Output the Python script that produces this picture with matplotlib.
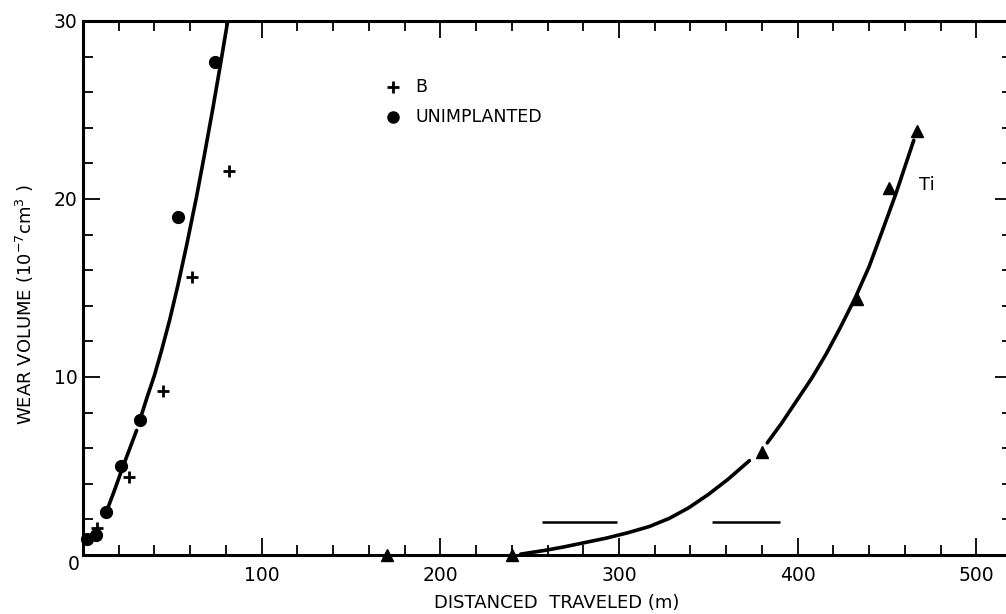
import numpy as np
import matplotlib
matplotlib.use("Agg")
import matplotlib.pyplot as plt
from matplotlib.ticker import MultipleLocator

# measured points
unimpl_x = [2, 7.5, 13, 21.5, 32, 53, 74]
unimpl_y = [0.9, 1.1, 2.4, 5.0, 7.6, 19.0, 27.7]
b_x = [8, 26, 45, 61, 82]
b_y = [1.5, 4.4, 9.2, 15.6, 21.6]
ti_x = [170, 240, 380, 433, 451, 467]
ti_y = [0.0, 0.0, 5.8, 14.4, 20.6, 23.8]

# hand drawn fit curves (nan = gap in the pen stroke)
fit1_x = [13, 17.5, 22.5, 27, 30, np.nan, 32.5, 36, 40, 44, 48.5, 53,
          58, 63.5, 68, 72.7, 77, 81]
fit1_y = [2.4, 3.6, 5.0, 6.2, 7.0, np.nan, 7.8, 8.9, 10.1, 11.5, 13.2,
          15.1, 17.4, 20.1, 22.5, 25.1, 27.6, 30.0]
fit2_x = [245, 258, 269, 281, 293, 305, 317, 328, 339, 350, 361, 373,
          np.nan, 383, 391, 399, 408, 416, 424, 432, 440, 447, 455, 460, 465]
fit2_y = [0.05, 0.25, 0.45, 0.7, 0.95, 1.25, 1.6, 2.05, 2.65, 3.4, 4.25,
          5.3, np.nan, 6.3, 7.4, 8.6, 9.95, 11.3, 12.8, 14.4, 16.2, 18.1,
          20.3, 21.8, 23.3]

# the two short horizontal strokes near the bottom
bar_x0 = [257, 352]
bar_x1 = [299, 390]
bar_y = [1.85, 1.85]

x_ticks = [0, 100, 200, 300, 400, 500]
x_labels = ["", "100", "200", "300", "400", "500"]
y_ticks = [0, 10, 20, 30]
y_labels = ["", "10", "20", "30"]

plt.rcParams["font.family"] = ["DejaVu Sans"]

fig = plt.figure(figsize=(10.06, 6.14), dpi=100)
ax = fig.add_axes([0.0825, 0.0961, 0.9235, 0.8697])

ax.plot(fit1_x, fit1_y, color="black", lw=2.6, solid_capstyle="round")
ax.plot(fit2_x, fit2_y, color="black", lw=2.6, solid_capstyle="round")
ax.hlines(bar_y, bar_x0, bar_x1, color="black", lw=1.8)

ax.plot(unimpl_x, unimpl_y, "o", color="black", ms=8.5, clip_on=False)
ax.plot(b_x, b_y, "+", color="black", ms=9, mew=2)
ax.plot(ti_x, ti_y, "^", color="black", ms=9, clip_on=False)

# legend drawn as in the figure
ax.plot([173.7], [26.3], "+", color="black", ms=9, mew=2)
ax.plot([173.7], [24.6], "o", color="black", ms=8)
ax.text(186, 26.3, "B", fontsize=12.5, va="center", ha="left")
ax.text(186, 24.6, "UNIMPLANTED", fontsize=12.5, va="center", ha="left")
ax.text(468, 20.8, "Ti", fontsize=13, va="center", ha="left")

ax.set_xlim(0, 520)
ax.set_ylim(0, 30)
ax.set_xticks(x_ticks)
ax.set_xticklabels(x_labels)
ax.set_yticks(y_ticks)
ax.set_yticklabels(y_labels)
ax.xaxis.set_minor_locator(MultipleLocator(20))
ax.yaxis.set_minor_locator(MultipleLocator(2))
ax.tick_params(which="both", direction="in", top=True, right=True,
               labelsize=13.5, width=1.3)
ax.tick_params(which="major", length=12)
ax.tick_params(which="minor", length=7)
ax.tick_params(axis="x", pad=8)
ax.tick_params(axis="y", pad=4)
for s in ax.spines.values():
    s.set_linewidth(2.2)

ax.text(-5, -0.56, "0", fontsize=13.5, ha="center", va="center",
        clip_on=False)

fig.text(25 / 1006, 1 - 305 / 614, r"WEAR VOLUME (10$^{-7}$cm$^{3}$ )",
         rotation=90, ha="center", va="center", fontsize=13)
fig.text(557 / 1006, 1 - 603 / 614, "DISTANCED  TRAVELED (m)",
         ha="center", va="center", fontsize=13)

fig.savefig("out.png", dpi=100)
